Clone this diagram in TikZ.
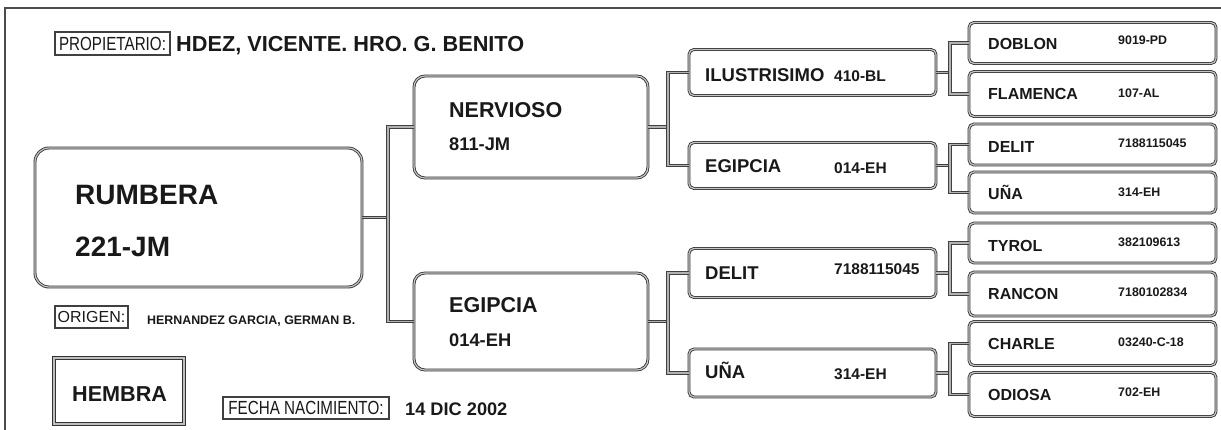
\documentclass[tikz,border=0pt]{standalone}
\usepackage{fontspec}
\setmainfont{Liberation Sans}
\newfontfamily\narrowfont[FakeStretch=0.8]{Liberation Sans}
\begin{document}
\begin{tikzpicture}[x=1pt,y=-1pt,
  txt/.style={anchor=base west, inner sep=0pt, text=black!90},
  pbox/.style={draw=black!80, line width=0.85pt, double=gray!45, double distance=1.2pt, minimum width=247, minimum height=44, rounded corners=5, inner sep=0pt},
  bigbox/.style={pbox, rounded corners=11},
  conn/.style={draw=black!75, line width=0.85pt, double=gray!60, double distance=1.4pt},
  lbl/.style={draw=black!75, line width=1.1pt, inner sep=0pt, text=black!90},
  frame/.style={draw=black!70, line width=2pt}]
\useasboundingbox (0,0) rectangle (1221,430);
\fill[white] (0,0) rectangle (1221,430);
\draw[frame] (5,430) -- (5,8) -- (1221,8);

% header and footer labels
\node[lbl, minimum width=115, minimum height=23] (prop) at (112.5,43.5) {\narrowfont\fontsize{19}{20}\selectfont PROPIETARIO:};
\node[txt] (owner) at (176,52) {\fontsize{21.7}{23}\selectfont\bfseries HDEZ, VICENTE. HRO. G. BENITO};
\node[lbl, minimum width=73, minimum height=22] (orig) at (91.5,317) {\fontsize{16}{17}\selectfont ORIGEN:};
\node[txt] (origname) at (147,325) {\fontsize{12.4}{13}\selectfont\bfseries HERNANDEZ GARCIA, GERMAN B.};
\node[draw=black!80, line width=1.1pt, double=gray!50, double distance=1.2pt, minimum width=130, minimum height=66, inner sep=0pt] (sex) at (119,391) {};
\node[txt] (sext) at (72,401) {\fontsize{21.6}{23}\selectfont\bfseries HEMBRA};
\node[lbl, minimum width=166, minimum height=22] (fecha) at (306,408) {\narrowfont\fontsize{19}{20}\selectfont FECHA NACIMIENTO:};
\node[txt] (fechat) at (405,415) {\fontsize{18.2}{19}\selectfont\bfseries 14 DIC 2002};

% root
\node[bigbox, minimum width=327, minimum height=139, rounded corners=14] (r) at (198.5,217.5) {};
\node[txt] at (75,205) {\fontsize{28}{30}\selectfont\bfseries RUMBERA};
\node[txt] at (75,257) {\fontsize{28}{30}\selectfont\bfseries 221-JM};

% generation 1
\node[bigbox, minimum width=234, minimum height=102] (n1) at (531,127) {};
\node[txt] at (449,118) {\fontsize{21.5}{23}\selectfont\bfseries NERVIOSO};
\node[txt] at (449,151) {\fontsize{18.3}{20}\selectfont\bfseries 811-JM};
\node[bigbox, minimum width=234, minimum height=97] (n2) at (531,321.5) {};
\node[txt] at (449,313) {\fontsize{21.5}{23}\selectfont\bfseries EGIPCIA};
\node[txt] at (449,346) {\fontsize{18.3}{20}\selectfont\bfseries 014-EH};

% generation 2
\node[pbox, minimum height=46] (g1) at (812.5,72.5) {};
\node[pbox, minimum height=46] (g2) at (812.5,165.5) {};
\node[pbox, minimum height=49] (g3) at (812.5,273) {};
\node[pbox, minimum height=48] (g4) at (812.5,373) {};
\tikzset{n2f/.style={txt, font=\fontsize{18.5}{20}\selectfont\bfseries}, i2f/.style={txt, font=\fontsize{15.5}{17}\selectfont\bfseries}}
\node[n2f] at (705,82) {ILUSTRISIMO};  \node[i2f] at (834,82) {410-BL};
\node[n2f] at (705,173) {EGIPCIA};     \node[i2f] at (834,174) {014-EH};
\node[n2f] at (705,280) {DELIT};       \node[i2f] at (834,275) {7188115045};
\node[n2f] at (705,378) {UÑA};         \node[i2f] at (834,379) {314-EH};

% generation 3
\node[pbox, minimum height=41] (h1) at (1092.5,43) {};
\node[pbox, minimum height=45] (h2) at (1092.5,94) {};
\node[pbox, minimum height=41] (h3) at (1092.5,144.5) {};
\node[pbox, minimum height=41] (h4) at (1092.5,192.5) {};
\node[pbox, minimum height=40] (h5) at (1092.5,243) {};
\node[pbox, minimum height=44] (h6) at (1092.5,294) {};
\node[pbox, minimum height=44] (h7) at (1092.5,343.5) {};
\node[pbox, minimum height=44] (h8) at (1092.5,394.5) {};
\tikzset{n3f/.style={txt, font=\fontsize{16}{18}\selectfont\bfseries}, i3f/.style={txt, font=\fontsize{12.4}{14}\selectfont\bfseries}}
\node[n3f] at (988,50) {DOBLON};    \node[i3f] at (1118,45) {9019-PD};
\node[n3f] at (988,100) {FLAMENCA}; \node[i3f] at (1118,98) {107-AL};
\node[n3f] at (988,153) {DELIT};    \node[i3f] at (1118,148) {7188115045};
\node[n3f] at (988,200) {UÑA};      \node[i3f] at (1118,197) {314-EH};
\node[n3f] at (988,252) {TYROL};    \node[i3f] at (1118,247) {382109613};
\node[n3f] at (988,300) {RANCON};   \node[i3f] at (1118,297) {7180102834};
\node[n3f] at (988,349) {CHARLE};   \node[i3f] at (1118,347) {03240-C-18};
\node[n3f] at (988,400) {ODIOSA};   \node[i3f] at (1118,396) {702-EH};

% connectors
\coordinate (j0) at (388,0);
\coordinate (j1) at (668,0);
\coordinate (j2) at (950,0);
\draw[conn] (r.east) -- (r.east -| j0);
\draw[conn] (n1.west) -- (n1.west -| j0) -- (n2.west -| j0) -- (n2.west);
\draw[conn] (n1.east) -- (n1.east -| j1);
\draw[conn] (g1.west) -- (g1.west -| j1) -- (g2.west -| j1) -- (g2.west);
\draw[conn] (n2.east) -- (n2.east -| j1);
\draw[conn] (g3.west) -- (g3.west -| j1) -- (g4.west -| j1) -- (g4.west);
\draw[conn] (g1.east) -- (g1.east -| j2);
\draw[conn] (h1.west) -- (h1.west -| j2) -- (h2.west -| j2) -- (h2.west);
\draw[conn] (g2.east) -- (g2.east -| j2);
\draw[conn] (h3.west) -- (h3.west -| j2) -- (h4.west -| j2) -- (h4.west);
\draw[conn] (g3.east) -- (g3.east -| j2);
\draw[conn] (h5.west) -- (h5.west -| j2) -- (h6.west -| j2) -- (h6.west);
\draw[conn] (g4.east) -- (g4.east -| j2);
\draw[conn] (h7.west) -- (h7.west -| j2) -- (h8.west -| j2) -- (h8.west);
\end{tikzpicture}
\end{document}
